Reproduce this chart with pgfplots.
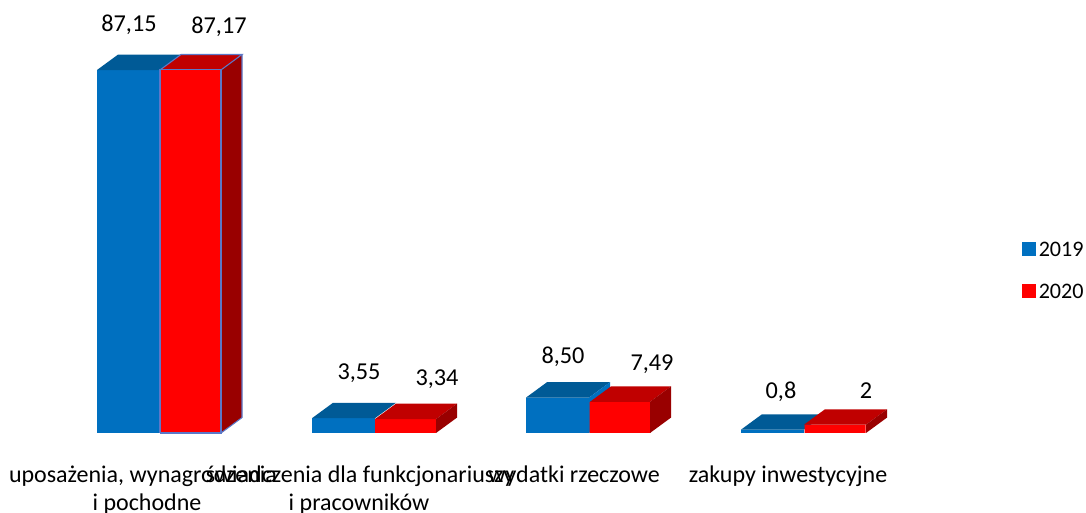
\documentclass[border=0pt]{standalone}
\usepackage{pgfplots}
\pgfplotsset{compat=1.18}
\usepackage{fontspec}
\setmainfont{Carlito}
\definecolor{cblue}{HTML}{0070C0}
\definecolor{cbluetop}{HTML}{005A96}
\definecolor{cred}{HTML}{FF0000}
\definecolor{credtop}{HTML}{C00000}
\definecolor{credside}{HTML}{990000}
\definecolor{cline}{HTML}{5B78C8}
\newcommand{\valfont}{\fontsize{18.2}{20}\selectfont}
\newcommand{\catfont}{\fontsize{18}{20}\selectfont}
\begin{document}
\begin{tikzpicture}
\useasboundingbox (0,0) rectangle (814.5pt,384pt);
\clip (0,0) rectangle (814.5pt,384pt);
\begin{axis}[
  at={(0,0)}, anchor=south west,
  scale only axis, width=814.5pt, height=384pt,
  xmin=0, xmax=1086, ymin=-18.97, ymax=103.96,
  axis lines=none, clip=true,
  legend cell align=left,
  legend style={at={(axis cs:1021.7,46.2)}, anchor=north west, draw=none, fill=none,
    inner sep=0pt, outer sep=0pt, font=\fontsize{16.6}{20}\selectfont,
    nodes={inner xsep=2.3pt, inner ysep=0pt, text height=12pt, text depth=0pt},
    row sep=19.5pt},
  legend image code/.code={\fill[#1] (-1pt,-5.4pt) rectangle (9.5pt,5.1pt);},
]
% --- 2019 fronts
\addplot[ybar, bar width=47.25pt, bar shift=0pt, fill=cblue, draw=none]
  coordinates {(128.5,87.15)(343.5,3.55)(557.5,8.50)(772.5,0.8)};
\addlegendentry{2019}
% --- 2019 tops and sides
\addplot[forget plot, fill=cbluetop, draw=none] coordinates {(97,87.15)(160,87.15)(181,90.85)(118,90.85)} -- cycle;
\addplot[forget plot, fill=cbluetop, draw=none] coordinates {(312,3.55)(375,3.55)(396,7.25)(333,7.25)} -- cycle;
\addplot[forget plot, fill=cbluetop, draw=none] coordinates {(526,8.50)(589,8.50)(610,12.20)(547,12.20)} -- cycle;
\addplot[forget plot, fill=cbluetop, draw=none] coordinates {(741,0.8)(804,0.8)(825,4.50)(762,4.50)} -- cycle;
\addplot[forget plot, fill=cblue, draw=none] coordinates {(589,0)(589,8.50)(610,12.20)(610,3.70)} -- cycle;
% --- 2020 fronts
\addplot[ybar, bar width=45.75pt, bar shift=0pt, fill=cred, draw=none]
  coordinates {(190.5,87.17)(405.5,3.34)(620,7.49)(835,2)};
\addlegendentry{2020}
% --- 2020 tops and sides
\addplot[forget plot, fill=credtop, draw=none] coordinates {(160,87.17)(221,87.17)(242,90.87)(181,90.87)} -- cycle;
\addplot[forget plot, fill=credtop, draw=none] coordinates {(375,3.34)(436,3.34)(457,7.04)(396,7.04)} -- cycle;
\addplot[forget plot, fill=credtop, draw=none] coordinates {(590,7.49)(650,7.49)(671,11.19)(611,11.19)} -- cycle;
\addplot[forget plot, fill=credtop, draw=none] coordinates {(804,2)(866,2)(887,5.70)(825,5.70)} -- cycle;
\addplot[forget plot, fill=credside, draw=none] coordinates {(221,0)(221,87.17)(242,90.87)(242,3.70)} -- cycle;
\addplot[forget plot, fill=credside, draw=none] coordinates {(436,0)(436,3.34)(457,7.04)(457,3.70)} -- cycle;
\addplot[forget plot, fill=credside, draw=none] coordinates {(650,0)(650,7.49)(671,11.19)(671,3.70)} -- cycle;
\addplot[forget plot, fill=credside, draw=none] coordinates {(866,0)(866,2)(887,5.70)(887,3.70)} -- cycle;
% --- outline on the first 2020 bar
\addplot[forget plot, draw=cline, line width=0.8pt] coordinates {(160,0)(160,87.17)(221,87.17)(221,0)(160,0)};
\addplot[forget plot, draw=cline, line width=0.8pt] coordinates {(160,87.17)(181,90.87)(242,90.87)(221,87.17)};
\addplot[forget plot, draw=cline, line width=0.8pt] coordinates {(242,90.87)(242,3.70)(221,0)};
% --- value labels
\node[anchor=base, inner sep=0pt, font=\valfont] at (axis cs:129,96.28) {87,15};
\node[anchor=base, inner sep=0pt, font=\valfont] at (axis cs:219,95.80) {87,17};
\node[anchor=base, inner sep=0pt, font=\valfont] at (axis cs:359,12.73) {3,55};
\node[anchor=base, inner sep=0pt, font=\valfont] at (axis cs:437,11.52) {3,34};
\node[anchor=base, inner sep=0pt, font=\valfont] at (axis cs:563,16.57) {8,50};
\node[anchor=base, inner sep=0pt, font=\valfont] at (axis cs:652,14.89) {7,49};
\node[anchor=base, inner sep=0pt, font=\valfont] at (axis cs:781,8.40) {0,8};
\node[anchor=base, inner sep=0pt, font=\valfont] at (axis cs:866,8.40) {2};
% --- category labels
\node[anchor=base, inner sep=0pt, font=\catfont] at (axis cs:143,-12.0) {uposażenia, wynagrodzenia};
\node[anchor=base, inner sep=0pt, font=\catfont] at (axis cs:147,-18.49) {i pochodne};
\node[anchor=base, inner sep=0pt, font=\catfont] at (axis cs:360,-12.0) {świadczenia dla funkcjonariuszy};
\node[anchor=base, inner sep=0pt, font=\catfont] at (axis cs:359,-18.49) {i pracowników};
\node[anchor=base, inner sep=0pt, font=\catfont] at (axis cs:574,-12.0) {wydatki rzeczowe};
\node[anchor=base, inner sep=0pt, font=\catfont] at (axis cs:788,-12.0) {zakupy inwestycyjne};
\end{axis}
\end{tikzpicture}
\end{document}
